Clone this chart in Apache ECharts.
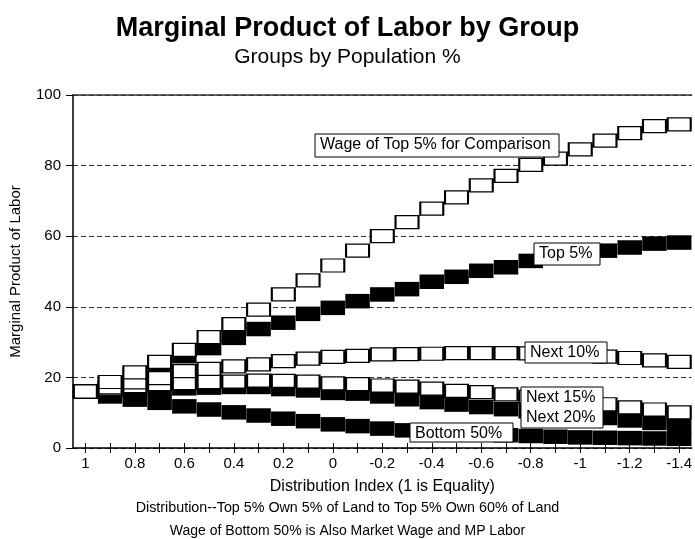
<!DOCTYPE html>
<html>
<head>
<meta charset="utf-8">
<script src="https://cdn.jsdelivr.net/npm/echarts@6/dist/echarts.min.js"></script>
<style>
html,body{margin:0;padding:0;background:#fff;}
#chart{width:695px;height:539px;}
</style>
</head>
<body>
<div id="chart"></div>
<script>
// x categories: distribution index 1 .. -1.4 (step 0.1)
const categories = ['1','0.9','0.8','0.7','0.6','0.5','0.4','0.3','0.2','0.1','0','-0.1','-0.2','-0.3','-0.4','-0.5','-0.6','-0.7','-0.8','-0.9','-1','-1.1','-1.2','-1.3','-1.4'];
// tick labels shown every other category
const tickLabels = ['1','0.8','0.6','0.4','0.2','0','-0.2','-0.4','-0.6','-0.8','-1','-1.2','-1.4'];
const yTicks = [0, 20, 40, 60, 80, 100];

const wageTop5 = [16.0,18.7,21.4,24.4,27.8,31.4,35.1,39.2,43.5,47.5,51.7,55.9,60.0,64.0,67.8,71.0,74.4,77.1,80.2,82.0,84.6,87.1,89.2,91.2,91.7];
const top5     = [16.0,17.8,20.5,23.1,26.0,28.3,31.2,33.7,35.5,38.0,39.7,41.6,43.5,45.0,47.1,48.5,50.2,51.2,53.0,54.2,55.1,55.9,56.8,57.9,58.2];
const next10   = [16.0,17.2,18.6,19.8,21.8,22.4,23.1,23.7,24.6,25.3,25.8,26.1,26.5,26.6,26.7,26.9,26.9,26.9,26.8,26.6,26.3,25.9,25.5,24.8,24.4];
const next15   = [16.0,16.8,17.5,18.1,18.4,18.7,18.8,19.1,19.0,18.8,18.3,18.1,17.7,17.4,16.8,16.2,15.8,15.2,14.5,13.8,13.1,12.4,11.5,10.9,10.1];
const next20   = [16.0,16.3,16.5,16.7,16.9,17.1,17.3,17.3,16.7,16.3,15.6,15.4,14.6,13.8,13.0,12.3,11.6,11.0,10.4,9.8,9.2,8.5,7.8,7.1,6.4];
const bottom50 = [16.0,14.6,13.7,12.8,11.8,10.9,10.1,9.2,8.3,7.6,6.7,6.2,5.5,5.0,4.6,4.2,3.9,3.6,3.4,3.2,3.0,2.9,2.8,2.7,2.6];

const FONT = '"Liberation Sans", Arial, Helvetica, sans-serif';
const chart = echarts.init(document.getElementById('chart'), null, {renderer:'canvas'});

function hollow(name, data){
  return {name, type:'scatter', data, symbol:'rect', symbolSize:[23,13],
    itemStyle:{color:'#fff', borderColor:'#000', borderWidth:1.6, opacity:1},
    emphasis:{disabled:true}, silent:true};
}
function solid(name, data){
  return {name, type:'scatter', data, symbol:'rect', symbolSize:[24.5,14.5],
    itemStyle:{color:'#000', opacity:1},
    emphasis:{disabled:true}, silent:true};
}

const labelIdx = new Set(tickLabels.map(t => categories.indexOf(t)));

function box(x, y, w, h, lines){
  const els = [{type:'rect', shape:{x, y, width:w, height:h}, style:{fill:'#fff', stroke:'#000', lineWidth:1}, z:100}];
  lines.forEach((t, k) => {
    els.push({type:'text', x: x+5, y: y+3+k*20, style:{text:t, font:'16px '+FONT, fill:'#000'}, z:101});
  });
  return els;
}

const option = {
  animation:false,
  backgroundColor:'#fff',
  title:[
    {text:'Marginal Product of Labor by Group', left:'center', top:10,
     textStyle:{fontFamily:FONT, fontSize:27, fontWeight:'bold', color:'#000'}},
    {text:'Groups by Population %', left:'center', top:42,
     textStyle:{fontFamily:FONT, fontSize:21, fontWeight:'normal', color:'#000'}},
    {text:'Distribution--Top 5% Own 5% of Land to Top 5% Own 60% of Land', left:'center', top:496,
     textStyle:{fontFamily:FONT, fontSize:14.3, fontWeight:'normal', color:'#000'}},
    {text:'Wage of Bottom 50% is Also Market Wage and MP Labor', left:'center', top:519,
     textStyle:{fontFamily:FONT, fontSize:14, fontWeight:'normal', color:'#000'}}
  ],
  grid:{left:72, top:95, width:625, height:353, containLabel:false},
  xAxis:[
    {type:'category', data:categories, position:'bottom', boundaryGap:true,
     name:'Distribution Index (1 is Equality)', nameLocation:'middle', nameGap:31,
     nameTextStyle:{fontFamily:FONT, fontSize:16, color:'#000'},
     axisLine:{lineStyle:{color:'#000', width:1.5}},
     axisTick:{show:true, alignWithLabel:true, interval:0, length:5, lineStyle:{color:'#000', width:1}},
     axisLabel:{interval:(i)=>labelIdx.has(i), fontFamily:FONT, fontSize:15, color:'#000', margin:8},
     splitLine:{show:false}},
    {type:'category', data:categories, position:'bottom', boundaryGap:true,
     axisLine:{show:false},
     axisTick:{show:true, inside:true, alignWithLabel:true, interval:0, length:5, lineStyle:{color:'#000', width:1}},
     axisLabel:{show:false}, splitLine:{show:false}},
    {type:'category', data:categories, position:'top', boundaryGap:true,
     axisLine:{show:true, lineStyle:{color:'#333', width:1.5}},
     axisTick:{show:false}, axisLabel:{show:false}, splitLine:{show:false}}
  ],
  yAxis:{type:'value', min:yTicks[0], max:yTicks[yTicks.length-1], interval:20,
     name:'Marginal Product of Labor', nameLocation:'middle', nameGap:50, nameRotate:90,
     nameTextStyle:{fontFamily:FONT, fontSize:15, color:'#000'},
     axisLine:{show:true, lineStyle:{color:'#000', width:1.5}},
     axisTick:{show:true, length:7, lineStyle:{color:'#000'}},
     axisLabel:{fontFamily:FONT, fontSize:15, color:'#000', margin:12},
     splitLine:{show:true, lineStyle:{color:'#333', type:[5,3], width:1}}},
  series:[
    solid('Bottom 50%', bottom50),
    solid('Next 20%', next20),
    solid('Top 5%', top5),
    hollow('Next 15%', next15),
    hollow('Next 10%', next10),
    hollow('Wage of Top 5% for Comparison', wageTop5)
  ],
  graphic:[
    ...box(315, 134, 244, 23, ['Wage of Top 5% for Comparison']),
    ...box(534, 243, 66, 22, ['Top 5%']),
    ...box(525, 342, 82, 21, ['Next 10%']),
    ...box(521, 387, 82, 41, ['Next 15%', 'Next 20%']),
    ...box(410, 423, 103, 19, ['Bottom 50%'])
  ]
};
chart.setOption(option);
</script>
</body>
</html>
